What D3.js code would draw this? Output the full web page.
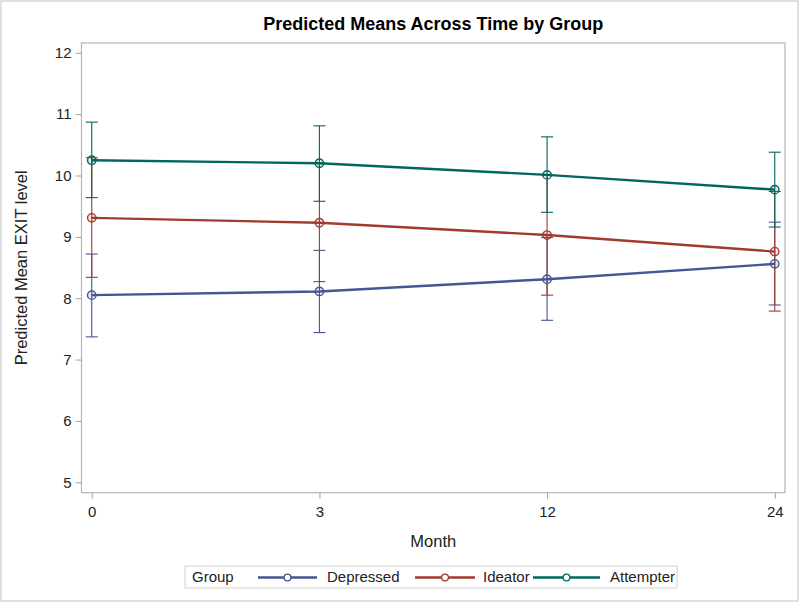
<!DOCTYPE html>
<html>
<head>
<meta charset="utf-8">
<script src="https://cdn.jsdelivr.net/npm/d3@7"></script>
<style>
  html, body { margin: 0; padding: 0; background: #fff; }
  svg { display: block; font-family: "Liberation Sans", Arial, sans-serif; }
</style>
</head>
<body>
<svg id="chart" width="800" height="603"></svg>
<script>
// ---- data ----
const months = ["0", "3", "12", "24"];
const yTicks = [5, 6, 7, 8, 9, 10, 11, 12];
const groups = ["Depressed", "Ideator", "Attempter"];

const depressed   = [8.05, 8.11, 8.31, 8.56];
const depressedLo = [7.37, 7.44, 7.64, 7.89];
const depressedHi = [8.72, 8.78, 8.99, 9.24];

const ideator   = [9.31, 9.23, 9.03, 8.76];
const ideatorLo = [8.34, 8.27, 8.05, 7.79];
const ideatorHi = [10.29, 10.20, 10.01, 9.74];

const attempter   = [10.25, 10.20, 10.01, 9.77];
const attempterLo = [9.64, 9.58, 9.40, 9.16];
const attempterHi = [10.87, 10.81, 10.63, 10.38];

const colors = ["#445694", "#A23A2E", "#01665E"];

const series = [
  { name: groups[0], mean: depressed, lo: depressedLo, hi: depressedHi, color: colors[0] },
  { name: groups[1], mean: ideator,   lo: ideatorLo,   hi: ideatorHi,   color: colors[1] },
  { name: groups[2], mean: attempter, lo: attempterLo, hi: attempterHi, color: colors[2] }
];

// ---- layout ----
const svg = d3.select("#chart");
const frame = { left: 81.5, right: 785, top: 43, bottom: 492.7 };

// outer border
svg.append("rect").attr("x", 1).attr("y", 1).attr("width", 797).attr("height", 600)
  .attr("fill", "#fff").attr("stroke", "#d6d6d6").attr("stroke-width", 1.5);

const x = d3.scalePoint().domain(months).range([frame.left, frame.right]).padding(0.045);
const y = d3.scaleLinear().domain([4.83, 12.16]).range([frame.bottom, frame.top]);

// frame
svg.append("rect")
  .attr("x", frame.left).attr("y", frame.top)
  .attr("width", frame.right - frame.left).attr("height", frame.bottom - frame.top)
  .attr("fill", "#fff").attr("stroke", "#b4b4b4").attr("stroke-width", 1.2);

// axes
const yAxis = d3.axisLeft(y).tickValues(yTicks).tickSize(6).tickPadding(4);
const gy = svg.append("g").attr("transform", `translate(${frame.left},0)`).call(yAxis);
gy.select(".domain").remove();
gy.selectAll("line").attr("stroke", "#a0a0a0");
gy.selectAll("text").attr("font-size", 15).attr("fill", "#222")
  .attr("font-family", "Liberation Sans, Arial, sans-serif");

const xAxis = d3.axisBottom(x).tickSize(6).tickPadding(8);
const gx = svg.append("g").attr("transform", `translate(0,${frame.bottom})`).call(xAxis);
gx.select(".domain").remove();
gx.selectAll("line").attr("stroke", "#a0a0a0");
gx.selectAll("text").attr("font-size", 15).attr("fill", "#222")
  .attr("font-family", "Liberation Sans, Arial, sans-serif");

// title & labels
svg.append("text").attr("x", (frame.left + frame.right) / 2).attr("y", 30)
  .attr("text-anchor", "middle").attr("font-size", 18).attr("font-weight", "bold")
  .attr("fill", "#000").text("Predicted Means Across Time by Group");

svg.append("text").attr("x", (frame.left + frame.right) / 2).attr("y", 547)
  .attr("text-anchor", "middle").attr("font-size", 16.5).attr("fill", "#222").text("Month");

svg.append("text")
  .attr("transform", `translate(27,${(frame.top + frame.bottom) / 2}) rotate(-90)`)
  .attr("text-anchor", "middle").attr("font-size", 16.5).attr("fill", "#222")
  .text("Predicted Mean EXIT level");

// error bars
const capW = 6;
series.forEach(s => {
  const g = svg.append("g").attr("stroke", s.color).attr("stroke-width", 1.1).attr("fill", "none");
  months.forEach((m, i) => {
    const cx = x(m);
    g.append("line").attr("x1", cx).attr("x2", cx).attr("y1", y(s.lo[i])).attr("y2", y(s.hi[i]));
    g.append("line").attr("x1", cx - capW).attr("x2", cx + capW).attr("y1", y(s.lo[i])).attr("y2", y(s.lo[i]));
    g.append("line").attr("x1", cx - capW).attr("x2", cx + capW).attr("y1", y(s.hi[i])).attr("y2", y(s.hi[i]));
  });
});

// lines and markers
const line = d3.line().x((d, i) => x(months[i])).y(d => y(d));
series.forEach(s => {
  svg.append("path").datum(s.mean).attr("d", line)
    .attr("fill", "none").attr("stroke", s.color).attr("stroke-width", 2.4);
});
series.forEach(s => {
  svg.append("g").selectAll("circle").data(s.mean).join("circle")
    .attr("cx", (d, i) => x(months[i])).attr("cy", d => y(d)).attr("r", 4.2)
    .attr("fill", s.color).attr("fill-opacity", 0.12)
    .attr("stroke", s.color).attr("stroke-width", 1.4);
});

// legend
const lg = svg.append("g");
lg.append("rect").attr("x", 185).attr("y", 566).attr("width", 492).attr("height", 22)
  .attr("fill", "#fff").attr("stroke", "#d0d0d0").attr("stroke-width", 1);
lg.append("text").attr("x", 192).attr("y", 582).attr("font-size", 15).attr("fill", "#222").text("Group");
const legendItems = [
  { x1: 258, x2: 317, tx: 327 },
  { x1: 415, x2: 475, tx: 483 },
  { x1: 533, x2: 600, tx: 610 }
];
series.forEach((s, i) => {
  const it = legendItems[i];
  lg.append("line").attr("x1", it.x1).attr("x2", it.x2).attr("y1", 577.5).attr("y2", 577.5)
    .attr("stroke", s.color).attr("stroke-width", 2.4);
  lg.append("circle").attr("cx", (it.x1 + it.x2) / 2).attr("cy", 577.5).attr("r", 3.4)
    .attr("fill", "#fff").attr("stroke", s.color).attr("stroke-width", 1.3);
  lg.append("text").attr("x", it.tx).attr("y", 582).attr("font-size", 15).attr("fill", "#222").text(s.name);
});
</script>
</body>
</html>
